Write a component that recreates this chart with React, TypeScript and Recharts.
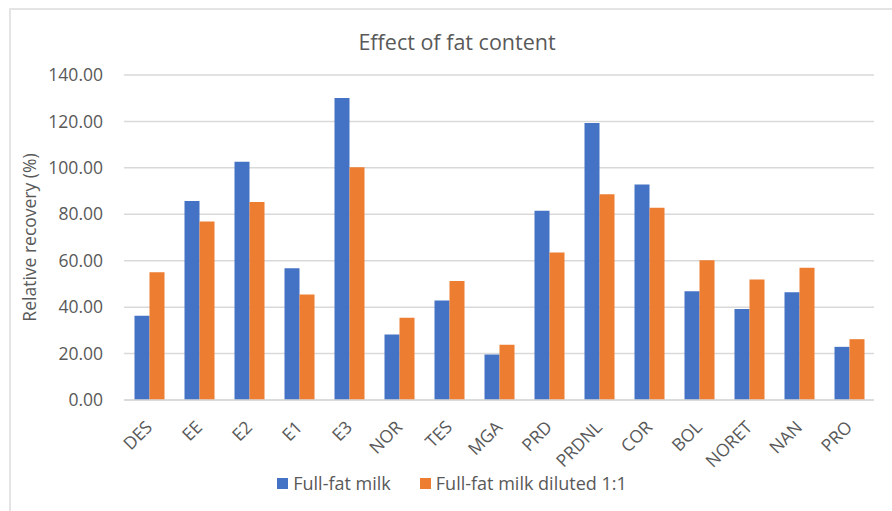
import { BarChart, Bar, XAxis, YAxis, CartesianGrid, Legend } from "recharts";

const compounds = ["DES", "EE", "E2", "E1", "E3", "NOR", "TES", "MGA", "PRD", "PRDNL", "COR", "BOL", "NORET", "NAN", "PRO"];
const fullFatMilk = [36.3, 85.7, 102.6, 56.8, 130.1, 28.2, 42.9, 19.6, 81.5, 119.3, 92.8, 46.8, 39.2, 46.4, 22.9];
const dilutedMilk = [55.0, 76.9, 85.3, 45.5, 100.3, 35.4, 51.3, 23.8, 63.5, 88.6, 82.8, 60.2, 51.9, 57.0, 26.2];
const yTicks = [0, 20, 40, 60, 80, 100, 120, 140];

const FONT = '"Open Sans", "Noto Sans", sans-serif';
const TEXT = "#595959";

const data = compounds.map((name, i) => ({
    name,
    full: fullFatMilk[i],
    diluted: dilutedMilk[i],
}));

function CompoundTick(props: any) {
    const { x, y, payload } = props;
    return (
        <text
            x={x}
            y={y}
            dy="0.35em"
            textAnchor="end"
            transform={`rotate(-45, ${x}, ${y})`}
            fill={TEXT}
            fontSize={17.5}
            fontFamily={FONT}
        >
            {payload.value}
        </text>
    );
}

function LegendRow(props: any) {
    const items = props.payload || [];
    return (
        <div style={{ display: "flex", justifyContent: "center", gap: 29, paddingLeft: 30, fontFamily: FONT, fontSize: 18, color: TEXT }}>
            {items.map((item: any) => (
                <div key={item.value} style={{ display: "flex", alignItems: "center" }}>
                    <span style={{ width: 11, height: 11, background: item.color, marginRight: 5, display: "inline-block" }} />
                    <span>{item.value}</span>
                </div>
            ))}
        </div>
    );
}

export default function App() {
    return (
        <div style={{ position: "fixed", left: 0, top: 0, width: 892, height: 511, background: "#fff", overflow: "hidden" }}>
            {/* chart frame, only top and left edges are in view */}
            <div style={{ position: "absolute", left: 9, top: 8, width: 920, height: 540, borderTop: "2px solid #e4e4e4", borderLeft: "2px solid #e4e4e4" }} />
            <div style={{ position: "absolute", left: 0, top: 27, width: 914, textAlign: "center", fontFamily: FONT, fontSize: 21.5, color: TEXT }}>
                Effect of fat content
            </div>
            <div style={{ position: "absolute", left: 0, top: 0 }}>
                <BarChart
                    width={892}
                    height={511}
                    data={data}
                    margin={{ top: 75, right: 18, bottom: 16, left: 0 }}
                    barCategoryGap="21%"
                    barGap={0}
                >
                    <CartesianGrid vertical={false} stroke="#d9d9d9" strokeWidth={1.5} />
                    <XAxis
                        dataKey="name"
                        height={71}
                        interval={0}
                        tickLine={false}
                        axisLine={{ stroke: "#d9d9d9", strokeWidth: 1.5 }}
                        tickMargin={18}
                        tick={<CompoundTick />}
                    />
                    <YAxis
                        width={124}
                        domain={[0, 140]}
                        ticks={yTicks}
                        tickFormatter={(v: number) => v.toFixed(2)}
                        tickLine={false}
                        axisLine={false}
                        tickMargin={15}
                        tick={{ fill: TEXT, fontSize: 17.5, fontFamily: FONT }}
                        label={{
                            value: "Relative recovery (%)",
                            angle: -90,
                            position: "insideLeft",
                            offset: 30,
                            style: { textAnchor: "middle", fill: TEXT, fontSize: 17.5, fontFamily: FONT },
                        }}
                    />
                    <Legend verticalAlign="bottom" content={<LegendRow />} />
                    <Bar dataKey="full" name="Full-fat milk" fill="#4472C4" isAnimationActive={false} />
                    <Bar dataKey="diluted" name="Full-fat milk diluted 1:1" fill="#ED7D31" isAnimationActive={false} />
                </BarChart>
            </div>
        </div>
    );
}
